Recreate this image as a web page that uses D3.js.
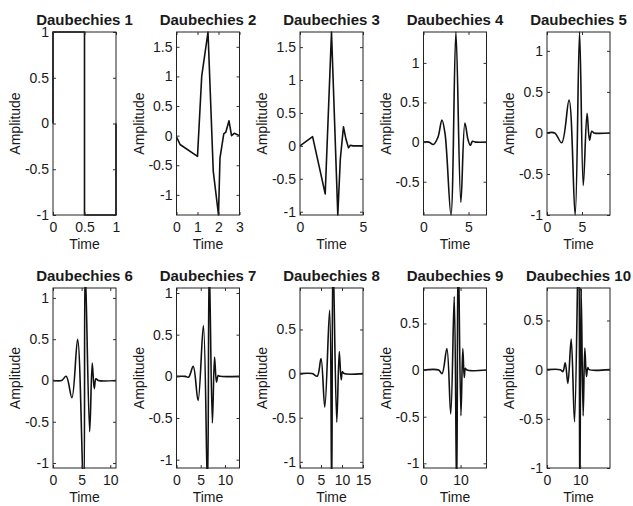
<!DOCTYPE html>
<html>
<head>
<meta charset="utf-8">
<script src="https://cdn.jsdelivr.net/npm/d3@7"></script>
<style>
  body { margin: 0; background: #fff; }
  svg { display: block; }
  text { font-family: "Liberation Sans", Arial, Helvetica, sans-serif; fill: #1a1a1a; }
</style>
</head>
<body>
<div id="chart"></div>
<script>
// wavelet shapes: [time, amplitude]
const db1 = [[0,0],[0,1],[0.5,1],[0.5,-1],[1,-1],[1,0]];
const db2 = [[0,-0.02],[0.17,-0.15],[1.0,-0.35],[1.2,1.0],[1.5,1.75],[1.75,-0.6],[2.0,-1.34],[2.07,-0.38],
             [2.25,0.03],[2.35,0.06],[2.5,0.25],[2.62,0.0],[2.75,0.04],[3,0]];
const db3 = [[0,0],[1.0,0.14],[2.0,-0.73],[2.5,1.73],[3.0,-1.05],[3.2,-0.2],[3.45,0.29],[3.65,0.1],
             [3.85,-0.03],[4.0,0.01],[4.2,0],[5,0]];
const db4 = [[0,0],[0.6,0],[1.1,-0.03],[1.6,0.06],[2.05,0.28],[2.4,0.1],[3.05,-0.92],[3.6,1.39],
             [4.15,-0.76],[4.6,0.24],[4.95,0.03],[5.2,-0.04],[5.45,0.01],[5.8,0],[7,0]];
const db5 = [[0,0],[1.1,0],[2.1,-0.12],[3.15,0.4],[4.02,-1.0],[4.65,1.23],[5.18,-0.64],[5.72,0.24],
             [6.08,-0.09],[6.4,0.02],[6.7,0],[9,0]];
const db6 = [[0,0],[1.5,0],[2.3,0.05],[3.3,-0.21],[4.3,0.5],[5.35,-1.4],[5.62,1.4],[6.4,-0.62],
             [6.85,0.21],[7.2,-0.1],[7.5,0.02],[7.9,0],[11,0]];
const db7 = [[0,0],[1.8,0],[2.5,-0.01],[3.45,0.12],[4.45,-0.29],[5.55,0.61],[6.4,-1.4],[6.75,1.4],
             [7.4,-0.56],[7.85,0.23],[8.25,-0.07],[8.6,0.01],[9,0],[13,0]];
const db8 = [[0,0],[2.9,0],[4.1,-0.03],[5.0,0.17],[5.9,-0.38],[7.05,0.72],[7.55,-1.4],[7.85,1.4],
             [8.75,-0.55],[9.35,0.25],[9.8,-0.07],[10.1,0.02],[10.5,0],[15,0]];
const db9 = [[0,0],[4.1,0],[5.0,-0.04],[6.3,0.23],[7.35,-0.47],[8.3,0.79],[8.95,-1.4],[9.35,1.4],
             [10.1,-0.49],[10.6,0.23],[11.0,-0.08],[11.3,0.02],[11.7,0],[17,0]];
const db10 = [[0,0],[4.0,0],[4.8,-0.02],[5.5,0.07],[6.3,-0.14],[7.3,0.31],[8.3,-0.53],[9.55,1.4],
              [9.9,-1.4],[10.3,0.82],[10.9,-0.47],[11.4,0.22],[11.9,-0.07],[12.3,0.02],[12.7,0],[19,0]];

const titles = ['Daubechies 1','Daubechies 2','Daubechies 3','Daubechies 4','Daubechies 5',
                'Daubechies 6','Daubechies 7','Daubechies 8','Daubechies 9','Daubechies 10'];
const xLims = [[0,1],[0,3],[0,5],[0,7],[0,9],[0,11],[0,13],[0,15],[0,17],[0,19]];
const yLims = [[-1,1],[-1.34,1.75],[-1.05,1.73],[-0.92,1.39],[-1,1.23],
               [-1.06,1.12],[-1.1,1.06],[-1.07,0.97],[-1.05,0.88],[-1,0.83]];
const xTicks = [[0,0.5,1],[0,1,2,3],[0,5],[0,5],[0,5],[0,5,10],[0,5,10],[0,5,10,15],[0,10],[0,10]];
const yTicks = [[-1,-0.5,0,0.5,1],[-1,-0.5,0,0.5,1,1.5],[-1,-0.5,0,0.5,1,1.5],[-0.5,0,0.5,1],
                [-1,-0.5,0,0.5,1],[-1,-0.5,0,0.5,1],[-1,-0.5,0,0.5,1],[-1,-0.5,0,0.5],
                [-1,-0.5,0,0.5],[-1,-0.5,0,0.5]];
const xLabel = 'Time', yLabel = 'Amplitude';

const waves = [db1,db2,db3,db4,db5,db6,db7,db8,db9,db10];

const W = 633, H = 506;
const svg = d3.select('#chart').append('svg').attr('width',W).attr('height',H);
const rows = [{top:32, h:183}, {top:288, h:180}];
const pw = 63;
const fmt = d => String(d);

waves.forEach((data,i)=>{
  const col = i % 5, row = Math.floor(i/5);
  const left = 53 + col*123.5, top = rows[row].top, h = rows[row].h;

  const x = d3.scaleLinear().domain(xLims[i]).range([0,pw]);
  const y = d3.scaleLinear().domain(yLims[i]).range([h,0]);

  const g = svg.append('g').attr('transform',`translate(${left},${top})`);

  g.append('clipPath').attr('id','clip'+i)
    .append('rect').attr('x',-1).attr('y',-1).attr('width',pw+2).attr('height',h+2);

  const line = d3.line()
    .x(d=>x(d[0])).y(d=>y(d[1]))
    .curve(i < 3 ? d3.curveLinear : d3.curveCatmullRom.alpha(0.5));

  g.append('path').datum(data)
    .attr('clip-path',`url(#clip${i})`)
    .attr('fill','none').attr('stroke','#111').attr('stroke-width',1.6)
    .attr('stroke-linejoin','round')
    .attr('d',line);

  // axes, ticks pointing inward on all four sides
  const bottom = g.append('g').attr('transform',`translate(0,${h})`)
    .call(d3.axisBottom(x).tickValues(xTicks[i]).tickSize(-3).tickSizeOuter(0).tickPadding(7).tickFormat(fmt));
  const topAx = g.append('g')
    .call(d3.axisTop(x).tickValues(xTicks[i]).tickSize(-3).tickSizeOuter(0).tickFormat(''));
  const leftAx = g.append('g')
    .call(d3.axisLeft(y).tickValues(yTicks[i]).tickSize(-3).tickSizeOuter(0).tickPadding(4).tickFormat(fmt));
  const rightAx = g.append('g').attr('transform',`translate(${pw},0)`)
    .call(d3.axisRight(y).tickValues(yTicks[i]).tickSize(-3).tickSizeOuter(0).tickFormat(''));

  [bottom, topAx, leftAx, rightAx].forEach(a=>{
    a.select('.domain').remove();
    a.selectAll('line').attr('stroke','#333');
    a.selectAll('text').attr('font-size',14).attr('fill','#1a1a1a')
      .attr('font-family','"Liberation Sans", Arial, sans-serif');
  });

  g.append('rect').attr('width',pw).attr('height',h)
    .attr('fill','none').attr('stroke','#222').attr('stroke-width',1);

  g.append('text').attr('x',pw/2).attr('y',-7)
    .attr('text-anchor','middle').attr('font-size',15).attr('font-weight','bold')
    .text(titles[i]);

  g.append('text').attr('x',pw/2).attr('y',h+34)
    .attr('text-anchor','middle').attr('font-size',14)
    .text(xLabel);

  g.append('text')
    .attr('transform',`translate(-38,${h/2}) rotate(-90)`)
    .attr('text-anchor','middle').attr('dominant-baseline','central').attr('font-size',14)
    .text(yLabel);
});
</script>
</body>
</html>
